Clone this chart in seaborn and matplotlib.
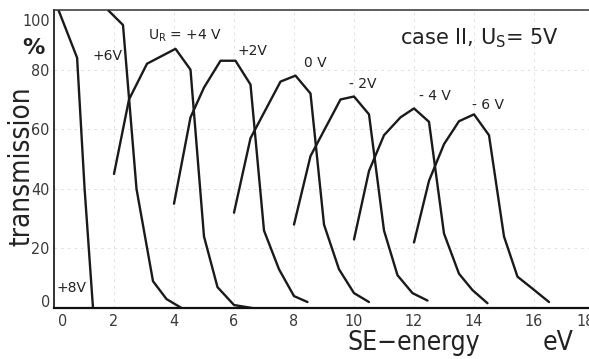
import matplotlib
matplotlib.use('Agg')
import matplotlib.pyplot as plt
import seaborn as sns
import pandas as pd
from matplotlib import font_manager as fm
from matplotlib.transforms import ScaledTranslation

# ---------------- data ----------------
curve_names = ['+8V', '+6V', '+4V', '+2V', '0V', '-2V', '-4V', '-6V']
e_p8 = [0.15, 0.77, 1.02, 1.3]
t_p8 = [100, 84, 40, 0]
e_p6 = [1.8, 2.3, 2.75, 3.3, 3.75, 4.25]
t_p6 = [100, 95, 40, 9, 3, 0]
e_p4 = [2.0, 2.5, 3.1, 4.05, 4.55, 5.0, 5.45, 6.0, 6.6]
t_p4 = [45, 70, 82, 87, 80, 24, 7, 1, 0]
e_p2 = [4.0, 4.55, 5.0, 5.55, 6.05, 6.55, 7.0, 7.5, 8.0, 8.45]
t_p2 = [35, 64, 74, 83, 83, 75, 26, 13, 4, 2]
e_0 = [6.0, 6.55, 7.55, 8.05, 8.55, 9.0, 9.5, 10.0, 10.5]
t_0 = [32, 57, 76, 78, 72, 28, 13, 5, 2]
e_m2 = [8.0, 8.55, 9.55, 10.0, 10.5, 11.0, 11.45, 11.95, 12.45]
t_m2 = [28, 51, 70, 71, 65, 26, 11, 5, 2.5]
e_m4 = [10.0, 10.5, 11.0, 11.55, 12.0, 12.5, 13.0, 13.5, 13.95, 14.45]
t_m4 = [23, 46, 58, 64, 67, 62.5, 25, 11.5, 6, 1.6]
e_m6 = [12.0, 12.5, 13.0, 13.5, 14.0, 14.5, 15.0, 15.45, 15.95, 16.5]
t_m6 = [22, 42.7, 55, 62.7, 65, 58, 24, 10.5, 6.5, 2]

curve_labels = ['+8V', '+6V', r'U$_\mathrm{R}$ = +4 V', '+2V', '0 V', '- 2V', '- 4 V', '- 6 V']
x_ticks = [0, 2, 4, 6, 8, 10, 12, 14, 16, 18]
y_ticks = [0, 20, 40, 60, 80, 100]

energies = [e_p8, e_p6, e_p4, e_p2, e_0, e_m2, e_m4, e_m6]
transm = [t_p8, t_p6, t_p4, t_p2, t_0, t_m2, t_m4, t_m6]

rows = []
for name, es, ts in zip(curve_names, energies, transm):
    for i, (e, t) in enumerate(zip(es, ts)):
        rows.append({'curve': name, 'order': i, 'energy': e, 'transmission': t})
df = pd.DataFrame(rows)

# ---------------- style ----------------
sns.set_theme(style='white')
plt.rcParams['font.family'] = ['DejaVu Sans']
plt.rcParams['mathtext.fontset'] = 'dejavusans'

# look for a condensed sans face (the original lettering is narrow)
narrow_family, narrow_stretch, is_narrow = 'DejaVu Sans', 'normal', False
for f in fm.fontManager.ttflist:
    if f.name == 'Liberation Sans Narrow':
        narrow_family, narrow_stretch, is_narrow = 'Liberation Sans Narrow', 'normal', True
        break
if not is_narrow:
    for f in fm.fontManager.ttflist:
        if f.name == 'DejaVu Sans' and str(f.stretch) in ('condensed', 'semi-condensed', '87.5', '75'):
            narrow_family, narrow_stretch, is_narrow = 'DejaVu Sans', 'condensed', True
            break

W, H = 589, 359
fig = plt.figure(figsize=(W / 100, H / 100), dpi=100, facecolor='white')
x0px, y0px = 54, 308
xmax = 18.2
ymax = 99.3
ax = fig.add_axes([x0px / W, 1 - y0px / H, xmax * 30 / W, ymax * 3 / H])
ax.set_facecolor('white')

sns.lineplot(data=df, x='energy', y='transmission', units='curve',
             estimator=None, sort=False, color='#1a1a1a', lw=1.7, ax=ax,
             legend=False)

ax.set_xlim(0, xmax)
ax.set_ylim(0, ymax)
ax.set_xticks(x_ticks)
ax.set_xticklabels([str(v) for v in x_ticks])
ax.set_yticks(y_ticks)
ax.set_yticklabels([str(v) for v in y_ticks])
ax.set_xlabel('')
ax.set_ylabel('')

ax.tick_params(axis='both', length=0, colors='#3a3a3a')
ax.tick_params(axis='x', pad=4)
ax.tick_params(axis='y', pad=3)
for lbl in ax.get_xticklabels() + ax.get_yticklabels():
    lbl.set_fontfamily(narrow_family)
    lbl.set_fontstretch(narrow_stretch)
    lbl.set_fontsize(11.5 if is_narrow else 10.5)
    lbl.set_color('#3a3a3a')

# hand-lettered offsets of a few tick labels
for tk in ax.xaxis.get_major_ticks():
    txt = tk.label1.get_text()
    if txt == '0':
        tk.label1.set_transform(tk.label1.get_transform() + ScaledTranslation(6 / 72, 0, fig.dpi_scale_trans))
    if txt == '18':
        tk.label1.set_transform(tk.label1.get_transform() + ScaledTranslation(-6 / 72, 0, fig.dpi_scale_trans))
for tk in ax.yaxis.get_major_ticks():
    txt = tk.label1.get_text()
    if txt == '100':
        tk.label1.set_transform(tk.label1.get_transform() + ScaledTranslation(0, -7 / 72, fig.dpi_scale_trans))
    if txt == '0':
        tk.label1.set_transform(tk.label1.get_transform() + ScaledTranslation(0, 5 / 72, fig.dpi_scale_trans))

ax.grid(True, color='#d9d9d9', lw=0.6, ls=(0, (3, 5)))

ax.spines['right'].set_visible(False)
ax.spines['left'].set_color('#222222')
ax.spines['left'].set_linewidth(1.3)
ax.spines['bottom'].set_color('#111111')
ax.spines['bottom'].set_linewidth(1.6)
ax.spines['top'].set_color('#333333')
ax.spines['top'].set_linewidth(1.1)

# curve labels
label_pos = [(0.57, 6.7, 'center'), (1.8, 84.7, 'center'), (3.13, 91.5, 'left'),
             (6.6, 86.3, 'center'), (8.7, 82.3, 'center'), (10.3, 75.3, 'center'),
             (12.7, 71.3, 'center'), (14.47, 68.0, 'center')]
for txt, (x, y, ha) in zip(curve_labels, label_pos):
    ax.text(x, y, txt, fontsize=10, ha=ha, va='center', color='#222222')

ax.text(11.55, 90.5, r'case II, U$_\mathrm{S}$= 5V', fontsize=15, ha='left', va='center', color='#222222')

# axis titles (placed as in the reference)
big = 25 if narrow_family == 'Liberation Sans Narrow' else (20 if is_narrow else 18.5)
ax.text(-1.1, 47.5, 'transmission', rotation=90, fontsize=big,
        fontfamily=narrow_family, fontstretch=narrow_stretch,
        ha='center', va='center', color='#222222', clip_on=False)
ax.text(-0.67, 87.3, '%', fontsize=16, fontweight='bold', ha='center', va='center',
        color='#222222', clip_on=False)
big2 = 23 if narrow_family == 'Liberation Sans Narrow' else (19 if is_narrow else 17)
ax.text(9.78, -11.7, 'SE\u2212energy', fontsize=big2,
        fontfamily=narrow_family, fontstretch=narrow_stretch,
        ha='left', va='center', color='#222222', clip_on=False)
ax.text(16.3, -11.7, 'eV', fontsize=big2,
        fontfamily=narrow_family, fontstretch=narrow_stretch,
        ha='left', va='center', color='#222222', clip_on=False)

fig.savefig('out.png', dpi=100, facecolor='white')
